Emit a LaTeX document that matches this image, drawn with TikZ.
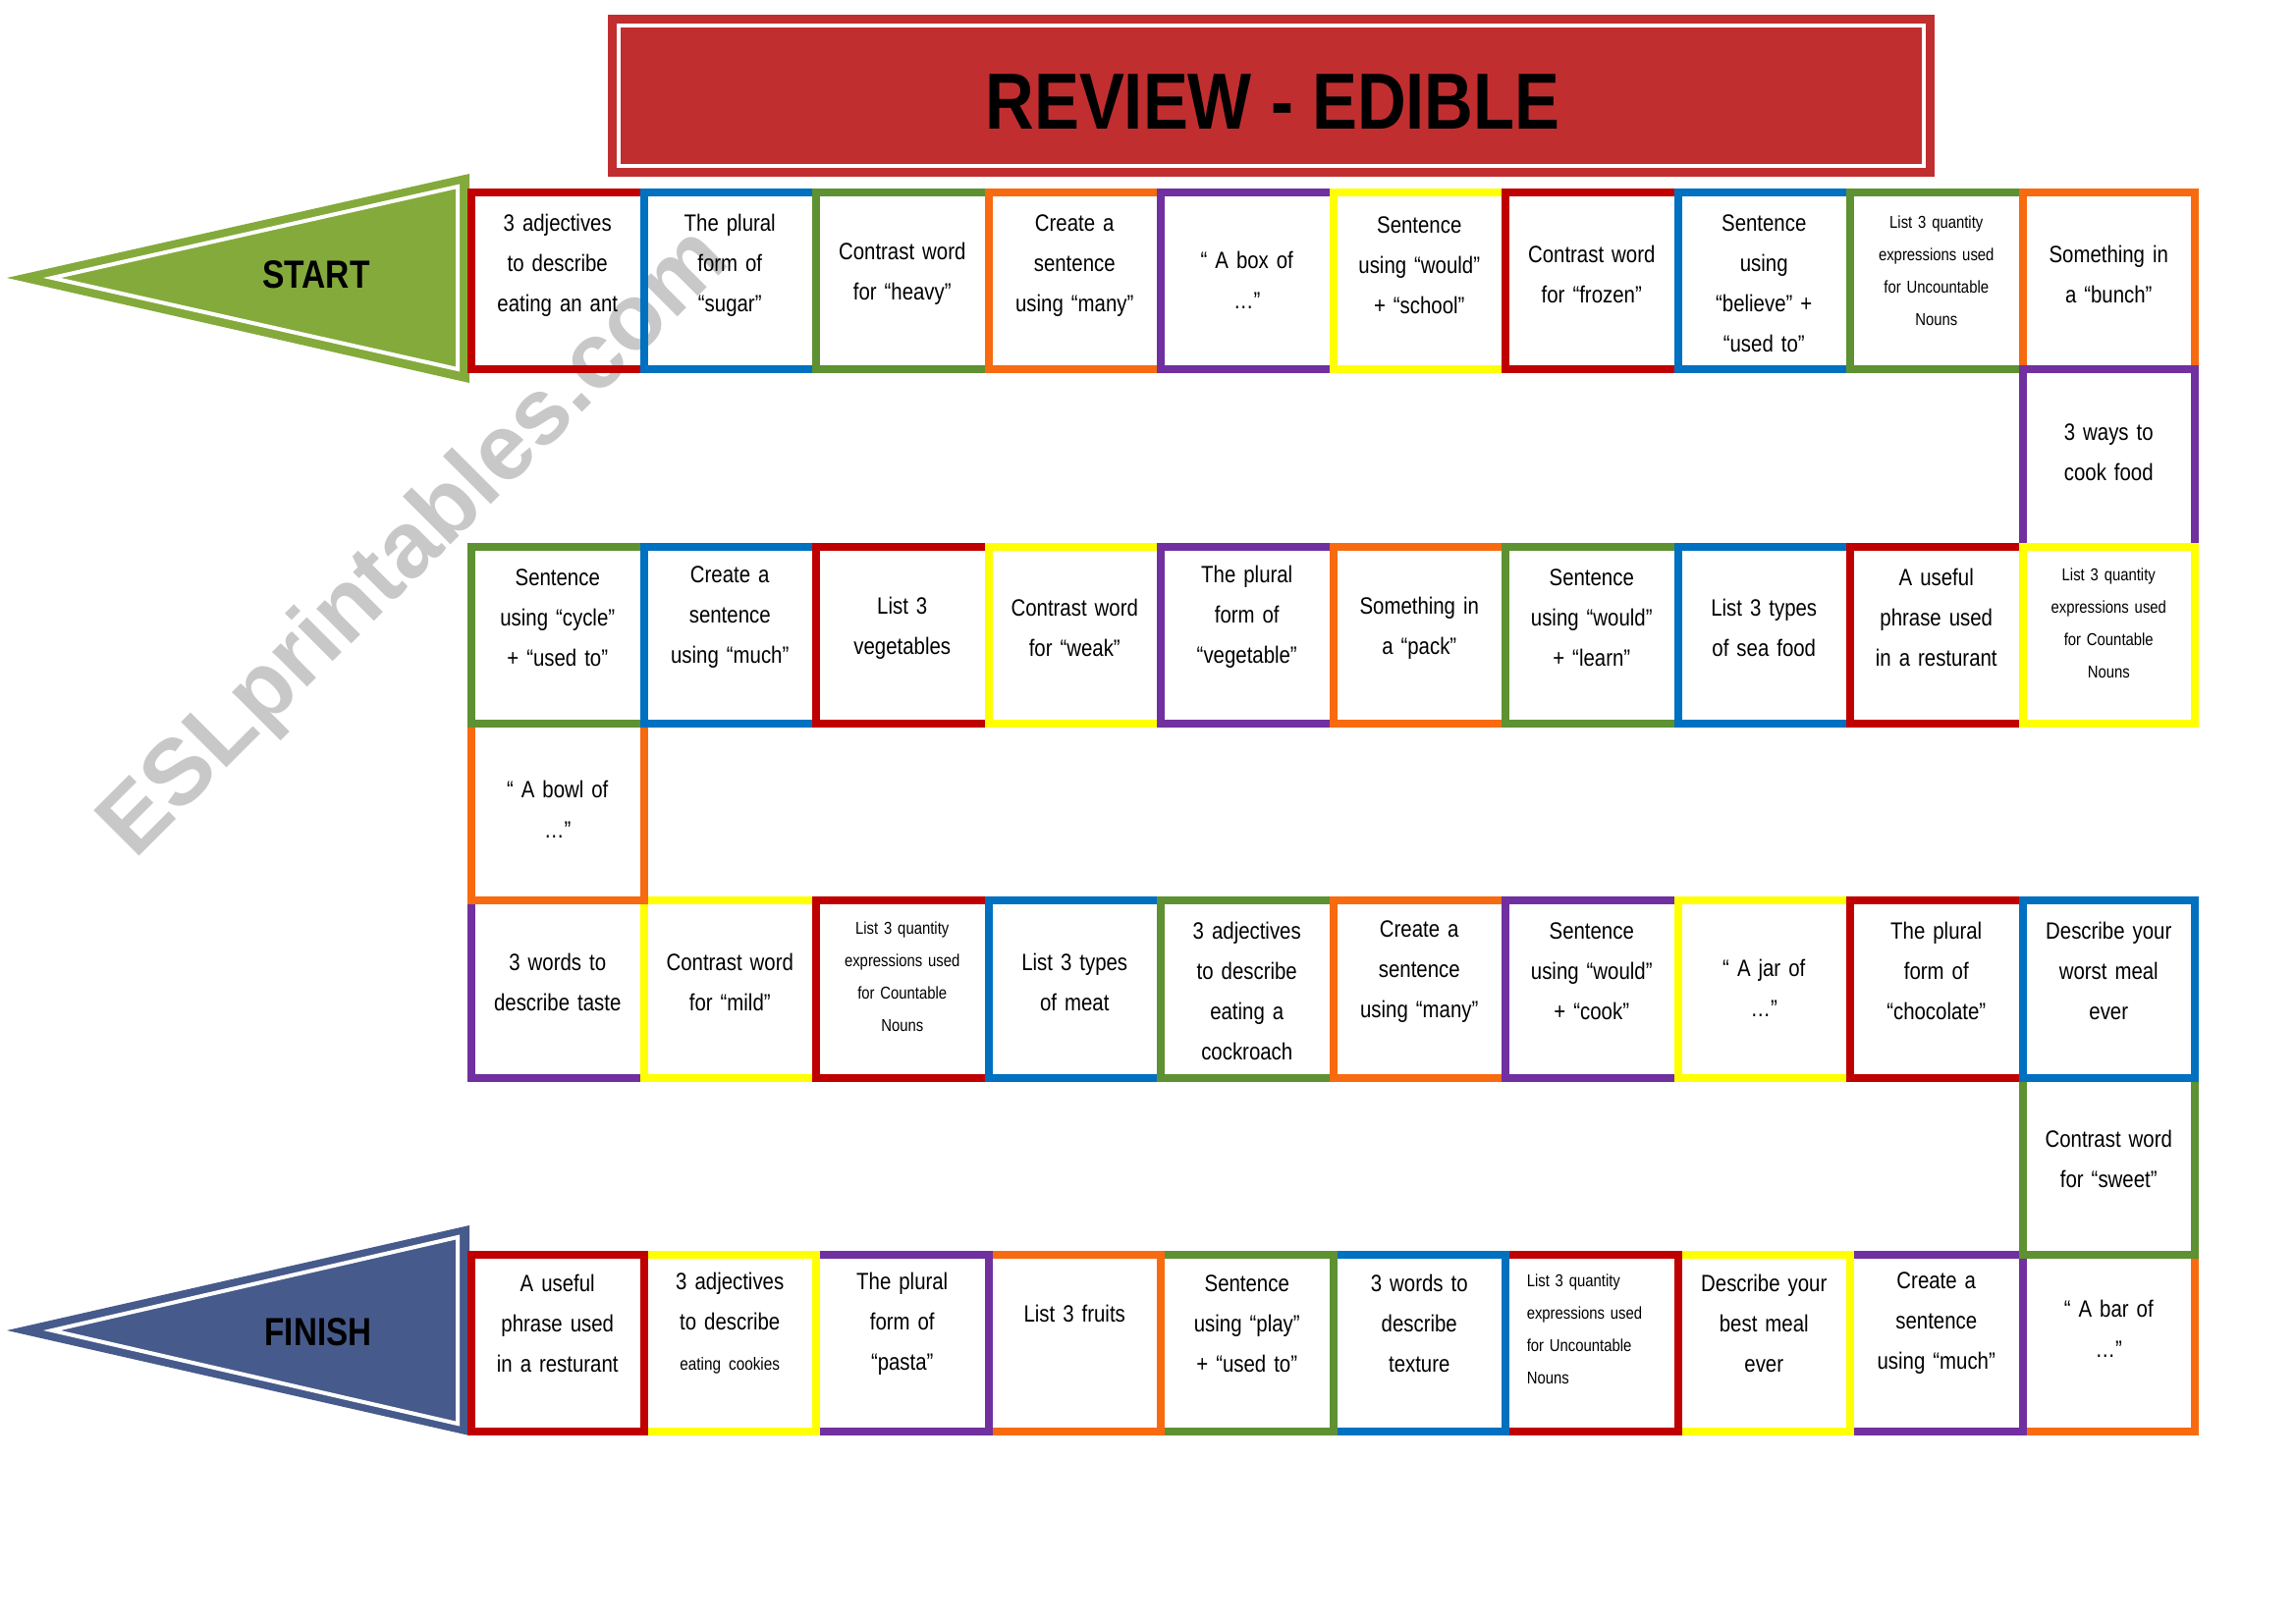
\documentclass[tikz,border=0pt]{standalone}
\usepackage{fontspec}
\setmainfont{Liberation Sans}
\newfontfamily\sqfont{Liberation Sans}[FakeStretch=0.85]
\definecolor{cRed}{HTML}{C00000}
\definecolor{cBlue}{HTML}{0070C0}
\definecolor{cGreen}{HTML}{5E9132}
\definecolor{cOrange}{HTML}{F86A10}
\definecolor{cPurple}{HTML}{7030A0}
\definecolor{cYellow}{HTML}{FFFF00}
\definecolor{titleRed}{HTML}{C12E2F}
\definecolor{startGreen}{HTML}{84AA3C}
\definecolor{finishBlue}{HTML}{475A8C}
\definecolor{wmGray}{HTML}{C8C8C8}
% [text opts]{name}{col}{row}{colour}{raise}{text}
\newcommand{\bsq}[7][]{%
  \node[sqr,draw=#5] (#2) at ({480+175.5*(#3-0.5)},{196+180.3*(#4-0.5)}) {};
  \node[sqtext,#1] (#2t) at ([yshift=#6pt]#2.center) {#7};}
\begin{document}
\begin{tikzpicture}[x=1pt,y=-1pt,
  sqr/.style={line width=8pt, minimum width=175.5pt, minimum height=180.3pt, inner sep=0pt},
  sqtext/.style={inner sep=0pt, align=center, text width=168pt, font=\sqfont\fontsize{24}{41}\selectfont},
  smalltxt/.style={font=\sqfont\fontsize{17.5}{33}\selectfont},
  arrowtxt/.style={font=\fontsize{40}{40}\selectfont\bfseries},
  wm/.style={text=wmGray, rotate=45, font=\fontsize{95}{95}\selectfont\bfseries}
]
\fill[white] (0,0) rectangle (2338,1653);
\useasboundingbox (0,0) rectangle (2338,1653);

% watermark
\node[wm] (wmark) at (424,555) {ESLprintables.com};

% title
\node[fill=titleRed, minimum width=1351pt, minimum height=165pt, inner sep=0pt] (title) at (1294.5,97.5) {};
\draw[white, line width=4pt] (630,26) rectangle (1959,169);
\node[font=\fontsize{81}{81}\selectfont\bfseries] (titletext) at (1296,104) {\scalebox{0.85}[1]{REVIEW - EDIBLE}};

% start and finish arrows
\fill[startGreen] (7,283) -- (478,177) -- (478,390) -- cycle;
\draw[white, line width=4pt] (53,283) -- (466,190) -- (466,376) -- cycle;
\node[arrowtxt] (start) at (322,280) {\scalebox{0.84}[1]{START}};
\fill[finishBlue] (7,1355) -- (478,1248) -- (478,1462) -- cycle;
\draw[white, line width=4pt] (53,1355) -- (466,1260) -- (466,1450) -- cycle;
\node[arrowtxt] (finish) at (324,1357) {\scalebox{0.83}[1]{FINISH}};

% row 7 (right to left)
\bsq{s34}{10}{7}{cOrange}{15}{“ A bar of\\…”}
\bsq{s35}{9}{7}{cPurple}{20}{Create a\\sentence\\using “much”}
\bsq{s36}{8}{7}{cYellow}{20}{Describe your\\best meal\\ever}
\bsq[smalltxt,align=left,text width=132pt]{s37}{7}{7}{cRed}{14}{List 3 quantity\\expressions used\\for Uncountable\\Nouns}
\bsq{s38}{6}{7}{cBlue}{20}{3 words to\\describe\\texture}
\bsq{s39}{5}{7}{cGreen}{20}{Sentence\\using “play”\\+ “used to”}
\bsq{s40}{4}{7}{cOrange}{30}{List 3 fruits}
\bsq{s41}{3}{7}{cPurple}{20}{The plural\\form of\\“pasta”}
\bsq{s42}{2}{7}{cYellow}{20}{3 adjectives\\to describe\\{\fontsize{18}{41}\selectfont eating cookies}}
\bsq{s43}{1}{7}{cRed}{20}{A useful\\phrase used\\in a resturant}

% row 6
\bsq{s33}{10}{6}{cGreen}{7}{Contrast word\\for “sweet”}

% row 5 (left to right)
\bsq{s23}{1}{5}{cPurple}{7}{3 words to\\describe taste}
\bsq{s24}{2}{5}{cYellow}{7}{Contrast word\\for “mild”}
\bsq[smalltxt]{s25}{3}{5}{cRed}{13}{List 3 quantity\\expressions used\\for Countable\\Nouns}
\bsq{s26}{4}{5}{cBlue}{7}{List 3 types\\of meat}
\bsq{s27}{5}{5}{cGreen}{-2}{3 adjectives\\to describe\\eating a\\cockroach}
\bsq{s28}{6}{5}{cOrange}{18}{Create a\\sentence\\using “many”}
\bsq{s29}{7}{5}{cPurple}{18}{Sentence\\using “would”\\+ “cook”}
\bsq{s30}{8}{5}{cYellow}{1}{“ A jar of\\…”}
\bsq{s31}{9}{5}{cRed}{18}{The plural\\form of\\“chocolate”}
\bsq{s32}{10}{5}{cBlue}{18}{Describe your\\worst meal\\ever}

% row 4
\bsq{s22}{1}{4}{cOrange}{3}{“ A bowl of\\…”}

% row 1 (left to right)
\bsq{s1}{1}{1}{cRed}{16}{3 adjectives\\to describe\\eating an ant}
\bsq{s2}{2}{1}{cBlue}{16}{The plural\\form of\\“sugar”}
\bsq{s3}{3}{1}{cGreen}{7}{Contrast word\\for “heavy”}
\bsq{s4}{4}{1}{cOrange}{16}{Create a\\sentence\\using “many”}
\bsq{s5}{5}{1}{cPurple}{1}{“ A box of\\…”}
\bsq{s6}{6}{1}{cYellow}{16}{Sentence\\using “would”\\+ “school”}
\bsq{s7}{7}{1}{cRed}{7}{Contrast word\\for “frozen”}
\bsq{s8}{8}{1}{cBlue}{-3}{Sentence\\using\\“believe” +\\“used to”}
\bsq[smalltxt]{s9}{9}{1}{cGreen}{10}{List 3 quantity\\expressions used\\for Uncountable\\Nouns}
\bsq{s10}{10}{1}{cOrange}{7}{Something in\\a “bunch”}

% row 2
\bsq{s11}{10}{2}{cPurple}{6}{3 ways to\\cook food}

% row 3 (left to right)
\bsq{s21}{1}{3}{cGreen}{18}{Sentence\\using “cycle”\\+ “used to”}
\bsq{s20}{2}{3}{cBlue}{18}{Create a\\sentence\\using “much”}
\bsq{s19}{3}{3}{cRed}{7}{List 3\\vegetables}
\bsq{s18}{4}{3}{cYellow}{7}{Contrast word\\for “weak”}
\bsq{s17}{5}{3}{cPurple}{18}{The plural\\form of\\“vegetable”}
\bsq{s16}{6}{3}{cOrange}{7}{Something in\\a “pack”}
\bsq{s15}{7}{3}{cGreen}{18}{Sentence\\using “would”\\+ “learn”}
\bsq{s14}{8}{3}{cBlue}{7}{List 3 types\\of sea food}
\bsq{s13}{9}{3}{cRed}{18}{A useful\\phrase used\\in a resturant}
\bsq[smalltxt]{s12}{10}{3}{cYellow}{12}{List 3 quantity\\expressions used\\for Countable\\Nouns}
\end{tikzpicture}
\end{document}
